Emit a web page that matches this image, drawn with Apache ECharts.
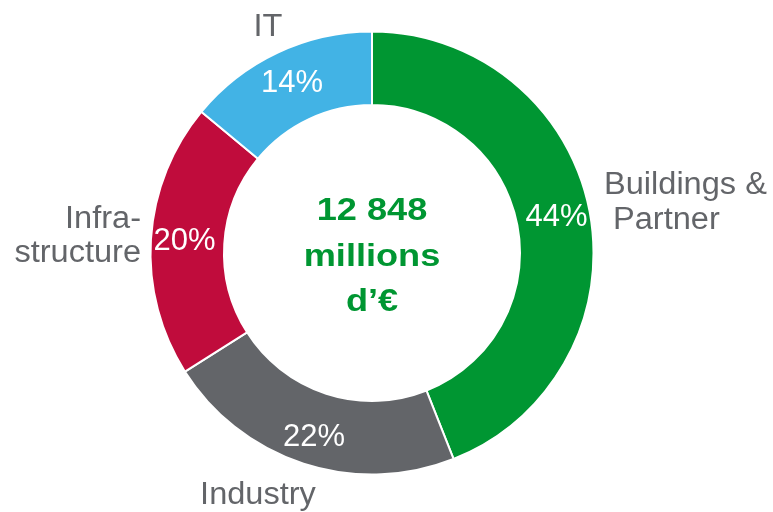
<!DOCTYPE html>
<html>
<head>
<meta charset="utf-8">
<script src="https://cdn.jsdelivr.net/npm/echarts@6/dist/echarts.min.js"></script>
<style>
html,body{margin:0;padding:0;background:#fff;}
#chart{width:773px;height:512px;}
</style>
</head>
<body>
<div id="chart"></div>
<script>
// Data (clockwise from 12 o'clock)
const categories = ['Buildings & Partner', 'Industry', 'Infrastructure', 'IT'];
const displayLabels = ['Buildings &\n Partner', 'Industry', 'Infra-\nstructure', 'IT'];
const shares = [44, 22, 20, 14];
const colors = ['#009632', '#636569', '#C00C3C', '#42B3E5'];
const centerLines = ['12 848', 'millions', 'd\u2019\u20AC'];

const chart = echarts.init(document.getElementById('chart'), null, {renderer: 'canvas'});

const data = categories.map((c, i) => {
  const item = {name: c, value: shares[i], itemStyle: {color: colors[i]}};
  if (c === 'Industry') item.label = {offset: [0, 6]};
  return item;
});

const FONT = 'Liberation Sans, Arial, sans-serif';
const labelGrey = '#636569';

const outer = [
  {text: displayLabels[0], x: 604, y: 203, align: 'left', lh: 35},
  {text: displayLabels[1], x: 258, y: 495, align: 'center', lh: 31},
  {text: displayLabels[2], x: 141, y: 236, align: 'right', lh: 34},
  {text: displayLabels[3], x: 268, y: 27, align: 'center', lh: 31}
];

chart.setOption({
  animation: false,
  backgroundColor: '#ffffff',
  series: [{
    type: 'pie',
    center: [372, 253],
    radius: [148, 221.5],
    startAngle: 90,
    clockwise: true,
    silent: true,
    itemStyle: {borderColor: '#ffffff', borderWidth: 2},
    label: {
      show: true,
      position: 'inside',
      formatter: '{c}%',
      color: '#ffffff',
      fontFamily: FONT,
      fontSize: 31
    },
    labelLine: {show: false},
    data: data
  }],
  graphic: outer.map(o => ({
    type: 'text',
    x: o.x,
    y: o.y,
    scaleX: 1.05,
    style: {
      text: o.text,
      fill: labelGrey,
      font: '31px ' + FONT,
      textAlign: o.align,
      textVerticalAlign: 'middle',
      lineHeight: o.lh
    }
  })).concat([{
    type: 'text',
    x: 372,
    y: 257,
    scaleX: 1.13,
    style: {
      text: centerLines.join('\n'),
      fill: '#009632',
      font: 'bold 32px ' + FONT,
      textAlign: 'center',
      textVerticalAlign: 'middle',
      lineHeight: 45.5
    }
  }])
});
</script>
</body>
</html>
